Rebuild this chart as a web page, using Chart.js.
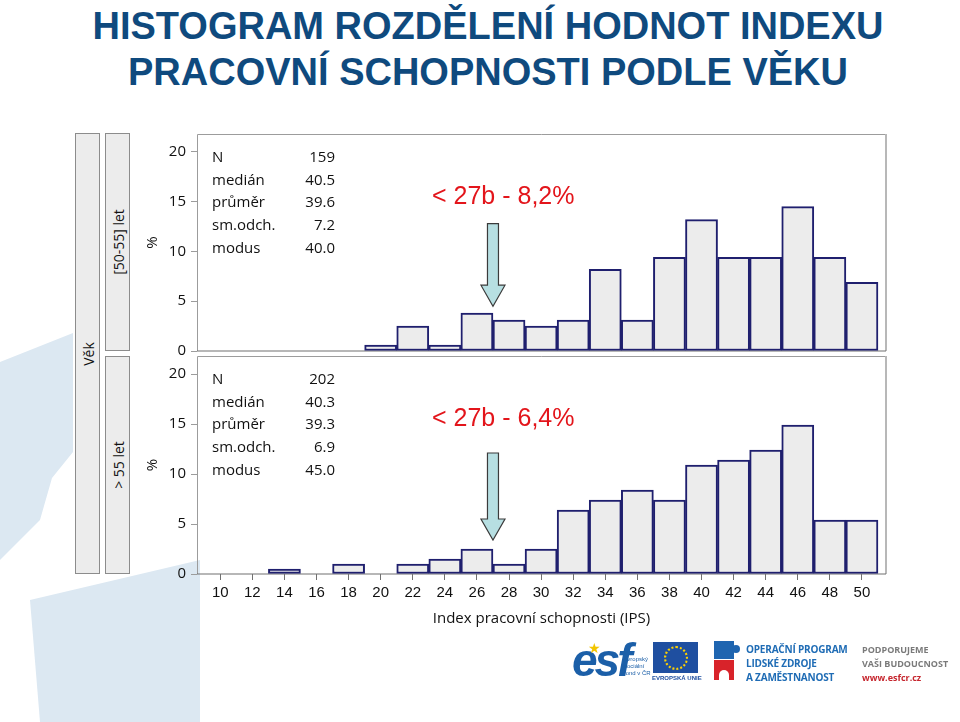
<!DOCTYPE html>
<html lang="cs">
<head>
<meta charset="utf-8">
<title>Histogram rozdělení hodnot indexu pracovní schopnosti podle věku</title>
<script src="https://cdn.jsdelivr.net/npm/chart.js@4.4.1/dist/chart.umd.min.js"></script>
<style>
  html, body { margin: 0; padding: 0; background: #fff; }
  body { width: 960px; height: 722px; position: relative; overflow: hidden; font-family: "Liberation Sans", Arial, sans-serif; }
  .bg { position: absolute; background: #dce8f2; }
  h1 { position: absolute; left: 0; top: 3px; width: 976px; margin: 0; text-align: center;
       font: bold 38px/46px "Liberation Sans", Arial, sans-serif; color: #0f4a7e; }
  .strip { position: absolute; background: #ececec; border: 1px solid #8c8c8c; box-sizing: border-box; }
  .strip span { position: absolute; left: 50%; top: 50%; transform: translate(-50%, -50%) rotate(-90deg);
                white-space: nowrap; font: 14px "Open Sans", sans-serif; color: #111; }
  canvas { position: absolute; }
  #chartTop { left: 140px; top: 120px; }
  #chartBottom { left: 140px; top: 340px; }
  .foot { position: absolute; white-space: nowrap; }
</style>
</head>
<body>
<div class="bg" style="left:0;top:0;width:200px;height:722px;clip-path:polygon(0 362px,73px 333px,73px 452px,52px 478px,40px 520px,0 560px);"></div>
<div class="bg" style="left:0;top:0;width:200px;height:722px;clip-path:polygon(30px 600px,200px 560px,200px 722px,40px 722px);"></div>

<h1>HISTOGRAM ROZDĚLENÍ HODNOT INDEXU<br>PRACOVNÍ SCHOPNOSTI PODLE VĚKU</h1>

<div class="strip" style="left:75px;top:133px;width:25px;height:441px;"><span>Věk</span></div>
<div class="strip" style="left:105px;top:133px;width:25px;height:218px;"><span>[50-55] let</span></div>
<div class="strip" style="left:105px;top:356px;width:25px;height:218px;"><span>&gt; 55 let</span></div>

<canvas id="chartTop" width="760" height="250"></canvas>
<canvas id="chartBottom" width="760" height="300"></canvas>

<!-- footer logos -->
<div class="foot" style="left:572px;top:636px;font:italic bold 46px/48px 'Liberation Sans',sans-serif;color:#1b5fa8;letter-spacing:-3px;">esf</div>
<div class="foot" style="left:588px;top:641px;font:14px/14px 'DejaVu Sans',sans-serif;color:#f2c500;">★</div>
<div class="foot" style="left:624px;top:656px;font:6px/7px 'Liberation Sans',sans-serif;color:#1b5fa8;">evropský<br>sociální<br>fond v ČR</div>
<div class="foot" style="left:653px;top:642px;width:45px;height:31px;background:#1f4fa0;"></div>
<div class="foot" style="left:664px;top:646px;width:20px;height:20px;border:2px dotted #ffd200;border-radius:50%;"></div>
<div class="foot" style="left:652px;top:675px;font:bold 6px/7px 'Liberation Sans',sans-serif;color:#1f4fa0;">EVROPSKÁ UNIE</div>
<div class="foot" style="left:714px;top:641px;width:20px;height:18px;background:#1f65b0;"></div>
<div class="foot" style="left:732px;top:645px;width:8px;height:8px;background:#1f65b0;border-radius:50%;"></div>
<div class="foot" style="left:714px;top:660px;width:20px;height:20px;background:#d8232a;"></div>
<div class="foot" style="left:719px;top:670px;width:10px;height:10px;background:#fff;border-radius:50% 50% 0 0;"></div>
<div class="foot" style="left:746px;top:642px;font:bold 10px/14px 'Open Sans',sans-serif;color:#1f6cb5;letter-spacing:-0.2px;">OPERAČNÍ PROGRAM<br>LIDSKÉ ZDROJE<br>A ZAMĚSTNANOST</div>
<div class="foot" style="left:862px;top:643px;font:bold 9px/14px 'Open Sans',sans-serif;color:#7a7a7a;">PODPORUJEME<br>VAŠI BUDOUCNOST<br><span style="color:#c6262e;">www.esfcr.cz</span></div>

<script>
// bins of the IPS index (bar centres) and tick values
const bins = [10, 12, 14, 16, 18, 20, 22, 24, 26, 28, 30, 32, 34, 36, 38, 40, 42, 44, 46, 48, 50];
const yTicks = [0, 5, 10, 15, 20];

// percentage of respondents in each bin
const pct50to55 = [0, 0, 0, 0, 0, 0.6, 2.5, 0.6, 3.8, 3.1, 2.5, 3.1, 8.2, 3.1, 9.4, 13.2, 9.4, 9.4, 14.5, 9.4, 6.9];
const pctOver55 = [0, 0, 0.5, 0, 1.0, 0, 1.0, 1.5, 2.5, 1.0, 2.5, 6.4, 7.4, 8.4, 7.4, 10.9, 11.4, 12.4, 14.9, 5.4, 5.4];

// summary statistics
const statLabels = ['N', 'medián', 'průměr', 'sm.odch.', 'modus'];
const stats50to55 = ['159', '40.5', '39.6', '7.2', '40.0'];
const statsOver55 = ['202', '40.3', '39.3', '6.9', '45.0'];

const notes = ['< 27b - 8,2%', '< 27b - 6,4%'];
const cutoff = 27;

const FRAME = '#9c9c9c';
const BASE = '#707070';

// frame, stats box, red note and arrow
const panelDecor = {
    id: 'panelDecor',
    beforeDatasetsDraw(chart) {
        const a = chart.chartArea;
        const ctx = chart.ctx;
        ctx.save();
        ctx.strokeStyle = FRAME;
        ctx.lineWidth = 1;
        ctx.beginPath();
        ctx.moveTo(a.left + 0.5, a.bottom);
        ctx.lineTo(a.left + 0.5, a.top + 0.5);
        ctx.lineTo(a.right, a.top + 0.5);
        ctx.stroke();
        ctx.strokeStyle = '#b8b8b8';
        ctx.lineWidth = 2;
        ctx.beginPath();
        ctx.moveTo(a.right, a.top);
        ctx.lineTo(a.right, a.bottom);
        ctx.stroke();
        ctx.strokeStyle = BASE;
        ctx.lineWidth = 1.2;
        ctx.beginPath();
        ctx.moveTo(a.left, a.bottom);
        ctx.lineTo(a.right, a.bottom);
        ctx.stroke();
        ctx.restore();
    },
    afterDatasetsDraw(chart, args, opts) {
        const a = chart.chartArea;
        const ctx = chart.ctx;
        const xs = chart.scales.x, ys = chart.scales.y;
        ctx.save();

        // stats
        ctx.font = '15px "Open Sans", sans-serif';
        ctx.fillStyle = '#111';
        ctx.textBaseline = 'middle';
        statLabels.forEach((lab, i) => {
            const y = a.top + 24 + i * 22.6;
            ctx.textAlign = 'left';
            ctx.fillText(lab, a.left + 15, y);
            ctx.textAlign = 'right';
            ctx.fillText(opts.stats[i], a.left + 138, y);
        });

        // note
        ctx.font = '25px "Liberation Sans", Arial, sans-serif';
        ctx.fillStyle = '#e3151b';
        ctx.textAlign = 'left';
        ctx.fillText(opts.note, a.left + 235, a.top + 63);

        // arrow pointing at the cut-off
        const cx = xs.getPixelForValue(cutoff);
        const y0 = ys.getPixelForValue(opts.arrowFrom);
        const y1 = ys.getPixelForValue(opts.arrowTo);
        const hw = 5.5, hh = 12, hl = 21;
        ctx.beginPath();
        ctx.moveTo(cx - hw, y0);
        ctx.lineTo(cx + hw, y0);
        ctx.lineTo(cx + hw, y1 - hl);
        ctx.lineTo(cx + hh, y1 - hl);
        ctx.lineTo(cx, y1);
        ctx.lineTo(cx - hh, y1 - hl);
        ctx.lineTo(cx - hw, y1 - hl);
        ctx.closePath();
        ctx.fillStyle = '#b7dfe2';
        ctx.fill();
        ctx.strokeStyle = '#3b3b3b';
        ctx.lineWidth = 1.2;
        ctx.stroke();
        ctx.restore();
    }
};

function makePanel(id, values, stats, note, arrowFrom, arrowTo, withXAxis) {
    const el = document.getElementById(id);
    return new Chart(el, {
        type: 'bar',
        data: {
            labels: bins,
            datasets: [{
                data: values,
                backgroundColor: '#ececec',
                borderColor: '#1f1f6e',
                borderWidth: 2,
                borderSkipped: false,
                barPercentage: 1,
                categoryPercentage: 1
            }]
        },
        options: {
            responsive: false,
            animation: false,
            layout: { padding: withXAxis ? { top: 16, right: 14, bottom: 10, left: 0 } : { top: 13, right: 14, bottom: 19, left: 0 } },
            plugins: {
                legend: { display: false },
                tooltip: { enabled: false },
                panelDecor: { stats: stats, note: note, arrowFrom: arrowFrom, arrowTo: arrowTo }
            },
            scales: {
                x: {
                    type: 'linear',
                    min: 8.55,
                    max: 51.5,
                    offset: false,
                    afterBuildTicks: s => { s.ticks = bins.map(v => ({ value: v })); },
                    afterFit: s => { s.height = withXAxis ? 56 : 0; },
                    border: { display: false },
                    grid: { display: withXAxis, offset: false, drawOnChartArea: false, tickLength: 6, color: BASE },
                    ticks: {
                        display: withXAxis,
                        padding: 4,
                        maxRotation: 0,
                        autoSkip: false,
                        color: '#111',
                        font: { family: '"Liberation Sans", Arial, sans-serif', size: 15 }
                    },
                    title: {
                        display: withXAxis,
                        text: 'Index pracovní schopnosti (IPS)',
                        color: '#111',
                        padding: { top: 4, bottom: 2 },
                        font: { family: '"Open Sans", sans-serif', size: 15 }
                    }
                },
                y: {
                    min: 0,
                    max: 21.8,
                    afterBuildTicks: s => { s.ticks = yTicks.map(v => ({ value: v })); },
                    afterFit: s => { s.width = 57; },
                    border: { display: false },
                    grid: { drawOnChartArea: false, tickLength: 6, color: FRAME },
                    ticks: {
                        padding: 5,
                        color: '#111',
                        font: { family: '"Open Sans", sans-serif', size: 15 }
                    },
                    title: {
                        display: true,
                        text: '%',
                        color: '#111',
                        padding: { top: 4, bottom: 4 },
                        font: { family: '"Open Sans", sans-serif', size: 15 }
                    }
                }
            }
        },
        plugins: [panelDecor]
    });
}

makePanel('chartTop', pct50to55, stats50to55, notes[0], 12.8, 4.5, false);
makePanel('chartBottom', pctOver55, statsOver55, notes[1], 12.1, 3.4, true);
</script>
</body>
</html>
